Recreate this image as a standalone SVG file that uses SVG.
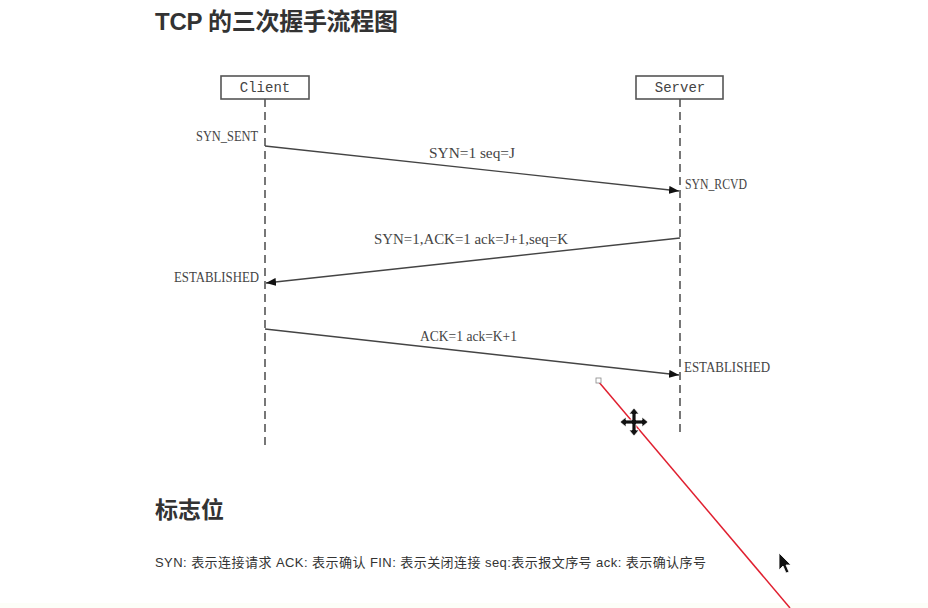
<svg xmlns="http://www.w3.org/2000/svg" width="928" height="608" viewBox="0 0 928 608">
<style>
.title{font-family:"Liberation Sans","Noto Sans CJK SC",sans-serif;font-weight:bold;fill:#333;}
.body{font-family:"Liberation Sans","Noto Sans CJK SC",sans-serif;fill:#333;font-size:13px;}
.box{fill:#fff;stroke:#555;stroke-width:1.6;}
.boxtxt{font-family:"Liberation Mono",monospace;font-size:14px;fill:#444;text-anchor:middle;}
.life{stroke:#555;stroke-width:1.6;stroke-dasharray:8 5;fill:none;}
.msg{stroke:#444;stroke-width:1.4;fill:none;}
.lbl{font-family:"Liberation Serif",serif;font-size:15px;fill:#444;}
</style>
<defs>
<marker id="ah" viewBox="0 0 10 8" refX="10" refY="4" markerWidth="10" markerHeight="8" markerUnits="userSpaceOnUse" orient="auto">
<path d="M0,0 L10,4 L0,8 Z" fill="#111"/>
</marker>
</defs>
<rect width="928" height="608" fill="#fff"/>
<rect y="603" width="928" height="5" fill="#fcfef8"/>
<text class="title" x="155" y="30" font-size="24" textLength="243">TCP 的三次握手流程图</text>

<g id="client">
<rect class="box" x="221" y="76" width="88" height="23"/>
<text class="boxtxt" x="265" y="92">Client</text>
<line class="life" x1="265" y1="99" x2="265" y2="445"/>
</g>
<g id="server">
<rect class="box" x="636" y="76" width="87" height="23"/>
<text class="boxtxt" x="680" y="92">Server</text>
<line class="life" x1="680" y1="99" x2="680" y2="432"/>
</g>

<g id="states">
<text class="lbl" x="258" y="141" text-anchor="end" textLength="62" lengthAdjust="spacingAndGlyphs">SYN_SENT</text>
<text class="lbl" x="685" y="189" textLength="62" lengthAdjust="spacingAndGlyphs">SYN_RCVD</text>
<text class="lbl" x="259" y="282" text-anchor="end" textLength="85" lengthAdjust="spacingAndGlyphs">ESTABLISHED</text>
<text class="lbl" x="684" y="372" textLength="86" lengthAdjust="spacingAndGlyphs">ESTABLISHED</text>
</g>

<g id="connectors">
<line class="msg" x1="265" y1="146" x2="679" y2="191" marker-end="url(#ah)"/>
<line class="msg" x1="680" y1="238" x2="266" y2="283" marker-end="url(#ah)"/>
<line class="msg" x1="265" y1="329" x2="679" y2="375" marker-end="url(#ah)"/>
<text class="lbl" x="429" y="158" textLength="86" lengthAdjust="spacingAndGlyphs">SYN=1  seq=J</text>
<text class="lbl" x="374" y="244" textLength="194" lengthAdjust="spacingAndGlyphs">SYN=1,ACK=1  ack=J+1,seq=K</text>
<text class="lbl" x="420" y="341" textLength="97" lengthAdjust="spacingAndGlyphs">ACK=1  ack=K+1</text>
</g>

<text class="title" x="155" y="518" font-size="23">标志位</text>
<text class="body" x="155" y="567" textLength="551">SYN: 表示连接请求 ACK: 表示确认 FIN: 表示关闭连接 seq:表示报文序号 ack: 表示确认序号</text>

<g id="overlay">
<line x1="598" y1="381" x2="790" y2="608" stroke="#e02030" stroke-width="1.5"/>
<rect x="596" y="378" width="5" height="5" fill="#fff" stroke="#888" stroke-width="0.8"/>
<path d="M634,408 L639,414 L636,414 L636,420 L642,420 L642,417 L648,422 L642,427 L642,424 L636,424 L636,430 L639,430 L634,436 L629,430 L632,430 L632,424 L626,424 L626,427 L620,422 L626,417 L626,420 L632,420 L632,414 L629,414 Z" fill="#111" stroke="#fff" stroke-width="0.8"/>
<path d="M779,553 L779,570 L783,566 L786,573 L789,572 L786,565 L791,565 Z" fill="#111" stroke="#fff" stroke-width="0.8"/>
</g>
</svg>
